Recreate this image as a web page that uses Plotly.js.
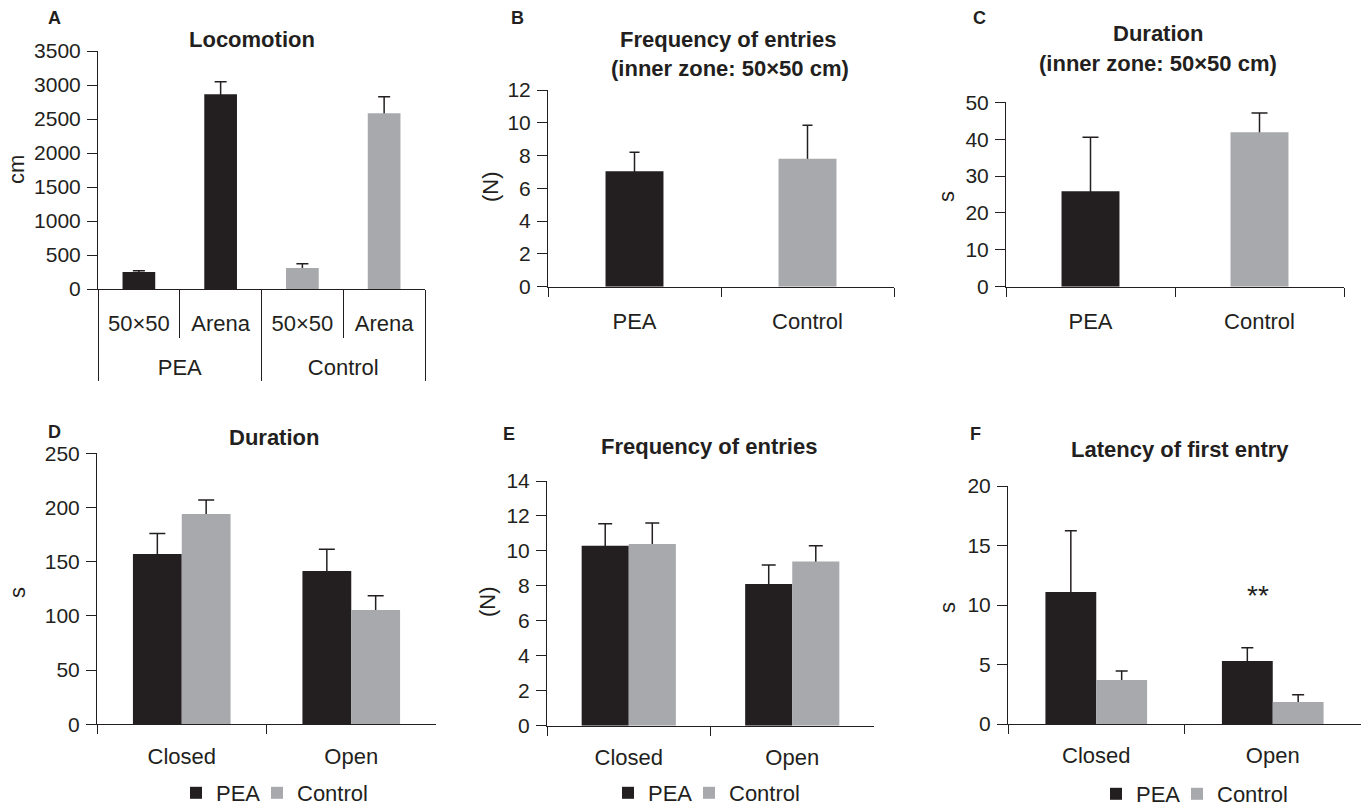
<!DOCTYPE html>
<html><head><meta charset="utf-8">
<script src="https://cdn.plot.ly/plotly-3.0.1.min.js"></script>
<style>html,body{margin:0;padding:0;background:#fff;overflow:hidden}#chart{width:1365px;height:807px}</style>
</head><body><div id="chart"></div>
<script>
const W = 1365, H = 807;
const PEA_COLOR = '#231f20', CTRL_COLOR = '#a7a9ac', INK = '#231f20';
const FONT = 'Liberation Sans, Arial, Helvetica, sans-serif';

// ---- Panel A: Locomotion (cm)
const aGroups = ['PEA', 'PEA', 'Control', 'Control'];
const aSub = ['50×50', 'Arena', '50×50', 'Arena'];
const aMean = [250, 2863, 309, 2584];
const aSem = [20, 186, 63, 244];
const aColors = [PEA_COLOR, PEA_COLOR, CTRL_COLOR, CTRL_COLOR];

// ---- Panel B: Frequency of entries, inner zone (N)
const bCats = ['PEA', 'Control'];
const bMean = [7.05, 7.8];
const bSem = [1.15, 2.05];

// ---- Panel C: Duration, inner zone (s)
const cCats = ['PEA', 'Control'];
const cMean = [25.9, 41.9];
const cSem = [14.6, 5.2];

// ---- Panels D-F: arms
const arms = ['Closed', 'Open'];
const dPea = [157, 141.5], dPeaSem = [19, 20];
const dCtrl = [194, 105.5], dCtrlSem = [13, 13];
const ePea = [10.3, 8.1], ePeaSem = [1.25, 1.1];
const eCtrl = [10.4, 9.4], eCtrlSem = [1.2, 0.9];
const fPea = [11.1, 5.3], fPeaSem = [5.15, 1.1];
const fCtrl = [3.7, 1.85], fCtrlSem = [0.75, 0.6];

const px = v => v / W;
const py = v => 1 - v / H;

// unique category keys for panel A (group + sub-category), labelled with the sub-category
const aKeys = aGroups.map((g, i) => g + ' ' + aSub[i]);

// error bars are drawn on a transparent copy of each bar series; the solid
// series drawn on top (same offsetgroup) hides the lower half of each bar.
function errTrace(x, mean, sem, xa, ya, capw, group, width) {
  const t = {
    type: 'bar', x: x, y: mean, xaxis: xa, yaxis: ya,
    offsetgroup: group, showlegend: false, hoverinfo: 'skip',
    marker: {color: 'rgba(0,0,0,0)', line: {width: 0}},
    error_y: {type: 'data', array: sem, visible: true,
              color: INK, thickness: 1.5, width: capw}
  };
  if (width !== undefined) t.width = width;
  return t;
}
function mainTrace(x, mean, color, xa, ya, group, name, legend, showlegend, width) {
  const t = {
    type: 'bar', x: x, y: mean, xaxis: xa, yaxis: ya, name: name,
    offsetgroup: group, showlegend: showlegend, legend: legend,
    marker: {color: color, line: {width: 0}}, hoverinfo: 'skip'
  };
  if (width !== undefined) t.width = width;
  if (showlegend && name === 'PEA') t.legendwidth = 36;
  return t;
}

const data = [
  errTrace(aKeys, aMean, aSem, 'x', 'y', 6, 'a', 0.4),
  mainTrace(aKeys, aMean, aColors, 'x', 'y', 'a', 'A', 'legend', false, 0.4),
  // invisible carrier so the group axis (PEA / Control) gets its categories
  {type: 'scatter', mode: 'markers', x: aGroups, y: aMean, xaxis: 'x7', yaxis: 'y',
   marker: {size: 1, opacity: 0}, showlegend: false, hoverinfo: 'skip'},
  errTrace(bCats, bMean, bSem, 'x2', 'y2', 5, 'b', 0.335),
  mainTrace(bCats, bMean, [PEA_COLOR, CTRL_COLOR], 'x2', 'y2', 'b', 'B', 'legend', false, 0.335),
  errTrace(cCats, cMean, cSem, 'x3', 'y3', 8, 'c', 0.343),
  mainTrace(cCats, cMean, [PEA_COLOR, CTRL_COLOR], 'x3', 'y3', 'c', 'C', 'legend', false, 0.343),
  errTrace(arms, dPea, dPeaSem, 'x4', 'y4', 8, 'pea'),
  errTrace(arms, dCtrl, dCtrlSem, 'x4', 'y4', 8, 'ctrl'),
  mainTrace(arms, dPea, PEA_COLOR, 'x4', 'y4', 'pea', 'PEA', 'legend', true),
  mainTrace(arms, dCtrl, CTRL_COLOR, 'x4', 'y4', 'ctrl', 'Control', 'legend', true),
  errTrace(arms, ePea, ePeaSem, 'x5', 'y5', 7, 'pea'),
  errTrace(arms, eCtrl, eCtrlSem, 'x5', 'y5', 7, 'ctrl'),
  mainTrace(arms, ePea, PEA_COLOR, 'x5', 'y5', 'pea', 'PEA', 'legend2', true),
  mainTrace(arms, eCtrl, CTRL_COLOR, 'x5', 'y5', 'ctrl', 'Control', 'legend2', true),
  errTrace(arms, fPea, fPeaSem, 'x6', 'y6', 6, 'pea'),
  errTrace(arms, fCtrl, fCtrlSem, 'x6', 'y6', 6, 'ctrl'),
  mainTrace(arms, fPea, PEA_COLOR, 'x6', 'y6', 'pea', 'PEA', 'legend3', true),
  mainTrace(arms, fCtrl, CTRL_COLOR, 'x6', 'y6', 'ctrl', 'Control', 'legend3', true)
];

function yAx(anchor, d0, d1, range, dtick) {
  return {anchor: anchor, domain: [py(d0), py(d1)], range: range, dtick: dtick,
    showline: true, linecolor: INK, linewidth: 1, ticks: 'outside', ticklen: 10,
    tickcolor: INK, tickwidth: 1, tickfont: {family: FONT, size: 21, color: INK},
    showgrid: false, zeroline: false, fixedrange: true, ticklabelstandoff: 2};
}
function xAx(anchor, l, r, n, standoff) {
  return {anchor: anchor, domain: [px(l), px(r)], type: 'category', range: [-0.5, n - 0.5],
    showline: true, linecolor: INK, linewidth: 1, ticks: 'outside', ticklen: 9,
    tickson: 'boundaries', tickcolor: INK, tickwidth: 1,
    tickfont: {family: FONT, size: 22, color: INK},
    showgrid: false, zeroline: false, fixedrange: true, ticklabelstandoff: standoff};
}

const xa = xAx('y', 98, 425, 4, 15);
xa.ticklen = 48;
xa.tickmode = 'array';
xa.tickvals = aKeys;
xa.ticktext = aSub;

const xa7 = xAx('y', 98, 425, 2, 63);
delete xa7.domain;
xa7.overlaying = 'x';
xa7.side = 'bottom';
xa7.showline = false;
xa7.ticklen = 91;

function ann(text, x, y, size, bold, extra) {
  return Object.assign({text: bold ? '<b>' + text + '</b>' : text, xref: 'paper', yref: 'paper',
    x: px(x), y: py(y), xanchor: 'center', yanchor: 'middle', showarrow: false,
    font: {family: FONT, size: size, color: INK}}, extra || {});
}

const annotations = [
  ann('A', 54, 18, 18, true), ann('B', 517, 18, 18, true), ann('C', 979, 18, 18, true),
  ann('D', 54, 432, 18, true), ann('E', 509, 434, 18, true), ann('F', 975, 434, 18, true),
  ann('Locomotion', 252, 39, 22, true),
  ann('Frequency of entries', 728, 39, 22, true),
  ann('(inner zone: 50×50 cm)', 730, 68, 22, true),
  ann('Duration', 1158, 34, 22, true),
  ann('(inner zone: 50×50 cm)', 1158, 63, 22, true),
  ann('Duration', 274, 437, 22, true),
  ann('Frequency of entries', 709, 446, 22, true),
  ann('Latency of first entry', 1180, 449, 22, true),
  ann('cm', 17, 170, 22, false, {textangle: -90}),
  ann('(N)', 490, 187, 22, false, {textangle: -90}),
  ann('s', 947, 197, 22, false, {textangle: -90}),
  ann('s', 17, 593, 22, false, {textangle: -90}),
  ann('(N)', 487, 602, 22, false, {textangle: -90}),
  ann('s', 947, 608, 22, false, {textangle: -90}),
  ann('**', 1258, 595, 28, false)
];

function leg(lx, cy) {
  return {orientation: 'h', x: px(lx), xanchor: 'left', y: py(cy), yanchor: 'middle',
    font: {family: FONT, size: 22, color: INK}, bgcolor: 'rgba(0,0,0,0)',
    itemwidth: 30, traceorder: 'normal'};
}

const layout = {
  width: W, height: H, margin: {l: 0, r: 0, t: 0, b: 0, autoexpand: false},
  paper_bgcolor: '#fff', plot_bgcolor: '#fff',
  barmode: 'group', bargap: 0.424, bargroupgap: 0,
  font: {family: FONT, color: INK},
  xaxis: xa,
  xaxis7: xa7,
  yaxis: yAx('x', 289, 51, [0, 3500], 500),
  xaxis2: xAx('y2', 548, 894, 2, 15),
  yaxis2: yAx('x2', 286.7, 90, [0, 12], 2),
  xaxis3: xAx('y3', 1006, 1344, 2, 15),
  yaxis3: yAx('x3', 286.7, 102.3, [0, 50], 10),
  xaxis4: xAx('y4', 97, 436, 2, 12),
  yaxis4: yAx('x4', 724.3, 453.3, [0, 250], 50),
  xaxis5: xAx('y5', 547, 874, 2, 12),
  yaxis5: yAx('x5', 725.7, 481, [0, 14], 2),
  xaxis6: xAx('y6', 1008, 1361, 2, 12),
  yaxis6: yAx('x6', 724, 486, [0, 20], 5),
  legend: leg(176, 793),
  legend2: leg(608, 793),
  legend3: leg(1096, 794),
  annotations: annotations
};

Plotly.newPlot('chart', data, layout, {displayModeBar: false, staticPlot: true});
</script></body></html>
